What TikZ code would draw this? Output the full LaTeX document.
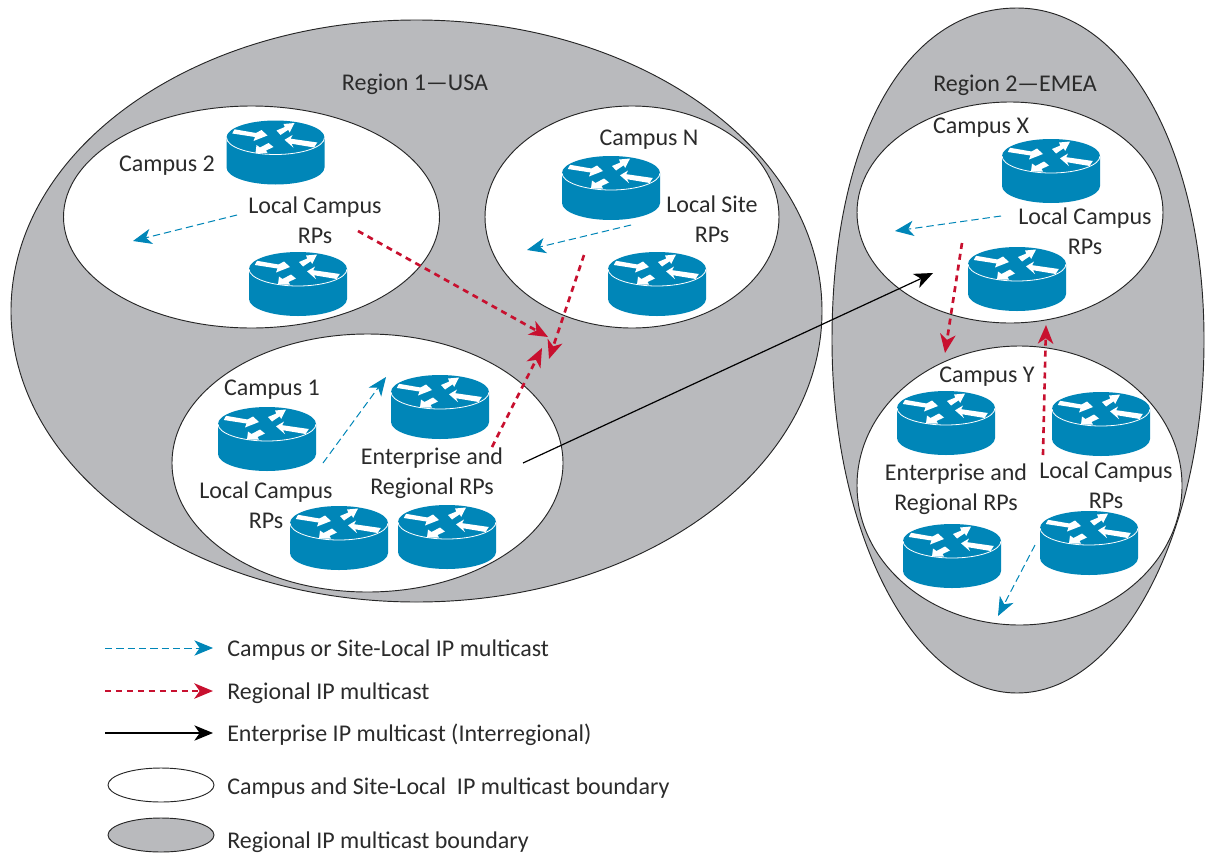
\documentclass[tikz,border=0pt]{standalone}
\usepackage{fontspec}
\setmainfont{Carlito}
\usetikzlibrary{arrows.meta,shapes.geometric}
\definecolor{rg}{HTML}{B9BABD}
\definecolor{cb}{HTML}{0086B8}
\definecolor{cr}{HTML}{C8102F}
\definecolor{tx}{HTML}{2B2B2B}
\tikzset{
 x=0.75pt,y=-0.75pt,
 bound/.style={ellipse,inner sep=0pt,draw=black!85,line width=0.7pt},
 region/.style={bound,fill=rg},
 campus/.style={bound,fill=white},
 lbl/.style={text=tx,font=\fontsize{18}{22.5}\selectfont,align=center,inner sep=0pt},
 lgl/.style={lbl,anchor=west},
 head/.style={-{Stealth[length=14pt,width=11.5pt,inset=4pt]}},
 bluearrow/.style={cb,line width=0.75pt,dash pattern=on 5.5pt off 3pt,head},
 redarrow/.style={cr,line width=2pt,dash pattern=on 4.5pt off 3.7pt,head},
 blackarrow/.style={black,line width=0.9pt,head},
 rarrow/.style={fill=white},
 pics/router/.style={code={
  \fill[cb] (-49,-15) -- (-49,15) .. controls (-49,24.4) and (-27,32) .. (0,32) .. controls (27,32) and (49,24.4) .. (49,15) -- (49,-15) .. controls (49,-24.4) and (27,-32) .. (0,-32) .. controls (-27,-32) and (-49,-24.4) .. (-49,-15) -- cycle;
  \draw[white,line width=0.6pt] (-49,-15) .. controls (-49,-5.6) and (-27,2) .. (0,2) .. controls (27,2) and (49,-5.6) .. (49,-15);
  \path[rarrow] (-41,-23.2) -- (-19.5,-19.5) -- (-14,-22.5) -- (-8,-17) -- (-22,-11.5) -- (-20.5,-15.5) -- (-43.2,-19) -- cycle;
  \path[rarrow] (1,-22) -- (9.3,-25.5) -- (8,-28.5) -- (19,-29.5) -- (14.2,-20) -- (12.7,-22.7) -- (5,-17.5) -- cycle;
  \path[rarrow] (-7,-9.5) -- (-2,-5.5) -- (-9.5,-2) -- (-8,0.5) -- (-20,0.5) -- (-19,-7.5) -- (-15.5,-5) -- cycle;
  \path[rarrow] (9,-12.7) -- (17,-17.5) -- (15.2,-13.8) -- (41.8,-10) -- (38.5,-5) -- (16,-8.8) -- (18,-4.8) -- cycle;
 }}
}
\begin{document}
\begin{tikzpicture}
\useasboundingbox (0,0) rectangle (1209,853);
% regions
\node[region,minimum width=608.25pt,minimum height=436.5pt] (r1) at (416.5,311) {};
\draw[fill=rg,draw=black!85,line width=0.7pt] (1017,8)
  .. controls (1125,8) and (1204,150) .. (1204,340)
  .. controls (1204,535) and (1120,693) .. (1017,693)
  .. controls (915,693) and (832,535) .. (832,340)
  .. controls (832,140) and (905,8) .. (1017,8) -- cycle;
% campuses
\node[campus,minimum width=282pt,minimum height=166.5pt] (c2) at (251.5,217) {};
\node[campus,minimum width=220.5pt,minimum height=166.5pt] (cn) at (632,217) {};
\node[campus,minimum width=293.25pt,minimum height=193.5pt] (c1) at (367.5,463) {};
\node[campus,minimum width=229.5pt,minimum height=165.75pt] (cx) at (1010,212.5) {};
\node[campus,minimum width=243.75pt,minimum height=209.25pt] (cy) at (1019.5,485.5) {};
% routers
\foreach \p in {(275.5,152.5),(298,284),(611,188),(657,284),(267,439),(440,407),(339,538),(447,537),(1051,171),(1017,279),(946,423),(1101,424),(952,556),(1089,543)}
  \pic at \p {router};
% labels
\node[lbl] (t1) at (415,84) {Region 1—USA};
\node[lbl] (t2) at (1015,85) {Region 2—EMEA};
\node[lbl] (t3) at (167,166) {Campus 2};
\node[lbl] (t4) at (315,220) {Local Campus\\RPs};
\node[lbl] (t5) at (649,140) {Campus N};
\node[lbl] (t6) at (712,219) {Local Site\\RPs};
\node[lbl] (t7) at (272,390) {Campus 1};
\node[lbl] (t8) at (266,505) {Local Campus\\RPs};
\node[lbl] (t9) at (432,473) {Enterprise and\\Regional RPs};
\node[lbl] (t10) at (981,128) {Campus X};
\node[lbl] (t11) at (1085,231) {Local Campus\\RPs};
\node[lbl] (t12) at (987,377) {Campus Y};
\node[lbl] (t13) at (956,489) {Enterprise and\\Regional RPs};
\node[lbl] (t14) at (1106,485) {Local Campus\\RPs};
% connectors
\coordinate (b1a) at (237,215); \coordinate (b1b) at (133,241);
\coordinate (b2a) at (631,225); \coordinate (b2b) at (527,250);
\coordinate (b3a) at (323,463); \coordinate (b3b) at (386,377);
\coordinate (b4a) at (1001,216); \coordinate (b4b) at (895,231);
\coordinate (b5a) at (1035,545); \coordinate (b5b) at (998,616);
\coordinate (h1a) at (358,231); \coordinate (h1b) at (548,337);
\coordinate (h2a) at (584,255); \coordinate (h2b) at (549,359);
\coordinate (h3a) at (492,447); \coordinate (h3b) at (542,348);
\coordinate (h4a) at (962,243); \coordinate (h4b) at (945,353);
\coordinate (h5a) at (1043,455); \coordinate (h5b) at (1046,325);
\coordinate (ka) at (523,463); \coordinate (kb) at (933,273);
\draw[bluearrow] (b1a) -- (b1b);
\draw[bluearrow] (b2a) -- (b2b);
\draw[bluearrow] (b3a) -- (b3b);
\draw[bluearrow] (b4a) -- (b4b);
\draw[bluearrow] (b5a) -- (b5b);
\draw[redarrow] (h1a) -- (h1b);
\draw[redarrow] (h2a) -- (h2b);
\draw[redarrow] (h3a) -- (h3b);
\draw[redarrow] (h4a) -- (h4b);
\draw[redarrow] (h5a) -- (h5b);
\draw[blackarrow] (ka) -- (kb);
% legend
\coordinate (l1a) at (105,648); \coordinate (l1b) at (213,648);
\coordinate (l2a) at (105,691); \coordinate (l2b) at (213,691);
\coordinate (l3a) at (105,733); \coordinate (l3b) at (213,733);
\draw[bluearrow] (l1a) -- (l1b);
\draw[redarrow] (l2a) -- (l2b);
\draw[blackarrow] (l3a) -- (l3b);
\node[campus,minimum width=79.5pt,minimum height=25.5pt] (l4) at (161,785) {};
\node[region,minimum width=79.5pt,minimum height=25.5pt] (l5) at (161,835) {};
\node[lgl] (g1) at (227,650) {Campus or Site-Local IP multicast};
\node[lgl] (g2) at (227,693) {Regional IP multicast};
\node[lgl] (g3) at (227,735) {Enterprise IP multicast (Interregional)};
\node[lgl] (g4) at (227,788) {Campus and Site-Local\ \ IP multicast boundary};
\node[lgl] (g5) at (227,842) {Regional IP multicast boundary};
\end{tikzpicture}
\end{document}
